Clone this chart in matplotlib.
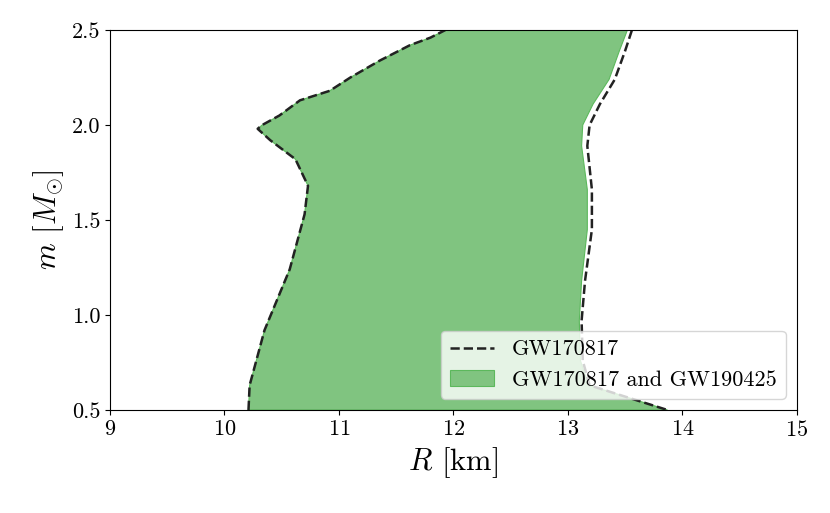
import numpy as np
import matplotlib
matplotlib.use('Agg')
import matplotlib.pyplot as plt

plt.rcParams['font.family'] = 'serif'
plt.rcParams['font.serif'] = ['cmr10']
plt.rcParams['mathtext.fontset'] = 'cm'
plt.rcParams['axes.formatter.use_mathtext'] = True

# GW170817 contour (dashed)
left_R = [10.21, 10.22, 10.35, 10.57, 10.70, 10.73, 10.62, 10.40, 10.29, 10.33,
          10.48, 10.66, 10.92, 11.10, 11.36, 11.62, 11.80, 11.93]
left_m = [0.50, 0.63, 0.92, 1.24, 1.53, 1.68, 1.82, 1.92, 1.98, 2.00,
          2.05, 2.13, 2.18, 2.25, 2.34, 2.42, 2.46, 2.50]
right_R = [13.56, 13.50, 13.41, 13.28, 13.19, 13.17, 13.21, 13.21, 13.15,
           13.12, 13.13, 13.19, 13.45, 13.87]
right_m = [2.50, 2.39, 2.24, 2.11, 2.00, 1.89, 1.66, 1.45, 1.18,
           0.97, 0.76, 0.63, 0.58, 0.50]

# combined GW170817 + GW190425 region (fill), slightly narrower on the right
fill_right_R = [13.52, 13.45, 13.36, 13.22, 13.13, 13.12, 13.17, 13.17, 13.12,
                13.10, 13.11, 13.18, 13.45, 13.87]

FILL = '#80c480'

fig = plt.figure(figsize=(8.3, 5.13), dpi=100)
ax = fig.add_axes([0.1325, 0.2008, 0.8275, 0.7407])

poly_R = left_R + fill_right_R
poly_m = left_m + right_m
ax.fill(poly_R, poly_m, color=FILL, edgecolor='#5cb85c', linewidth=0.8,
        label='GW170817 and GW190425')
ax.plot(left_R, left_m, color='#222222', linestyle='--', linewidth=1.8,
        label='GW170817')
ax.plot(right_R, right_m, color='#222222', linestyle='--', linewidth=1.8)

ax.set_xlim(9, 15)
ax.set_ylim(0.5, 2.5)
ax.set_xticks([9, 10, 11, 12, 13, 14, 15])
ax.set_yticks([0.5, 1.0, 1.5, 2.0, 2.5])
ax.set_yticklabels(['0.5', '1.0', '1.5', '2.0', '2.5'])
ax.tick_params(labelsize=16)
ax.set_xlabel(r'$R$ [km]', fontsize=22)
ax.set_ylabel(r'$m$ [$M_{\odot}$]', fontsize=22)

h, l = ax.get_legend_handles_labels()
ax.legend([h[1], h[0]], [l[1], l[0]], loc='lower right', fontsize=16,
          framealpha=0.8)

fig.savefig('out.png', dpi=100)
